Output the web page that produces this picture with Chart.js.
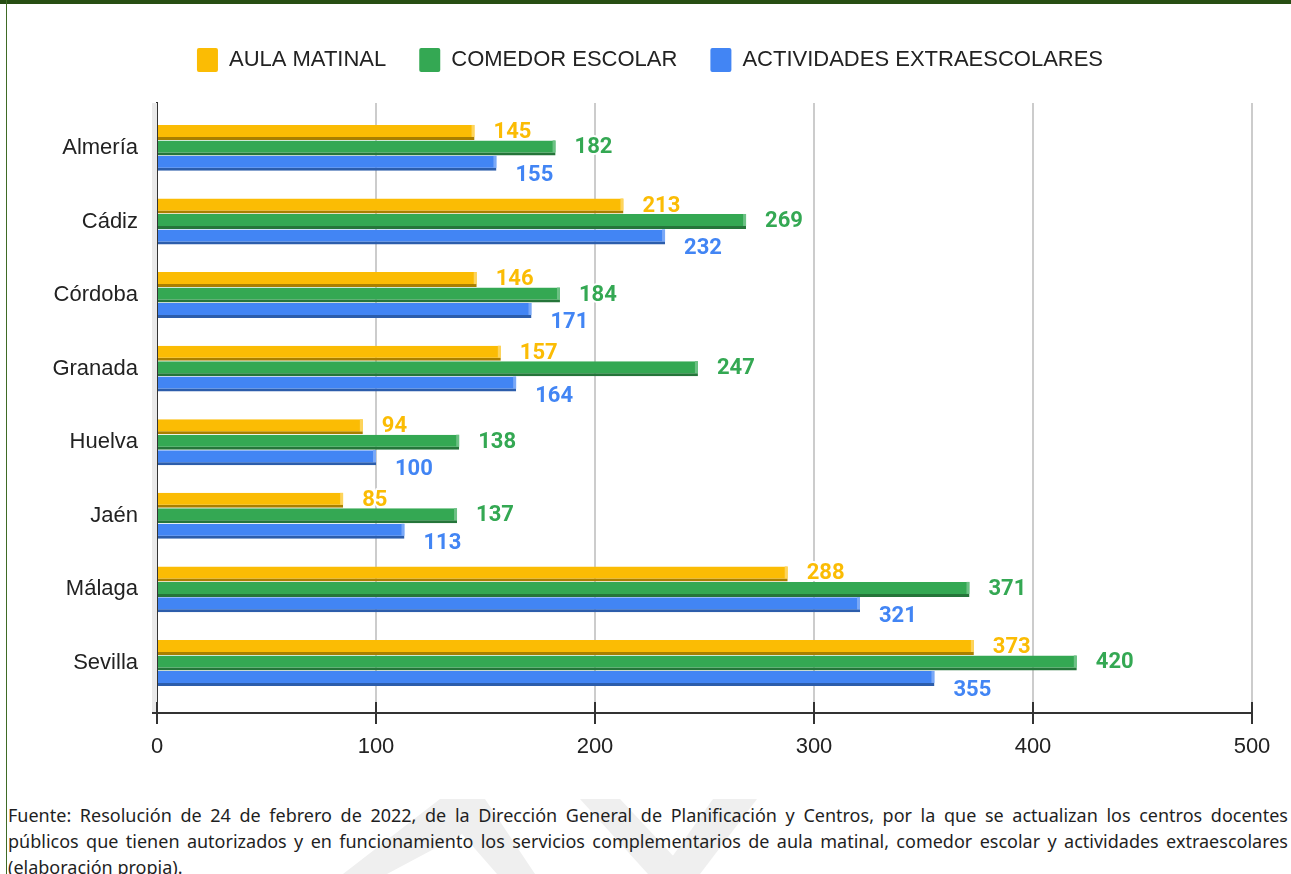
<!DOCTYPE html>
<html>
<head>
<meta charset="utf-8">
<script src="https://cdn.jsdelivr.net/npm/chart.js@4"></script>
<style>
  html, body { margin: 0; padding: 0; background: #fff; }
  body { width: 1291px; height: 874px; position: relative; overflow: hidden; }
  #topband { position: absolute; left: 0; top: 0; width: 1291px; height: 4px; background: #274e13; z-index: 5; }
  #leftline { position: absolute; left: 6px; top: 0; width: 1px; height: 874px; background: #3f6b25; z-index: 5; }
  #wrap { position: absolute; left: 0; top: 0; width: 1291px; height: 790px; z-index: 2; }
  #mark { position: absolute; left: 0; top: 0; z-index: 1; }
  #note { position: absolute; left: 8px; top: 802px; width: 1280px; z-index: 3;
          font-family: "Noto Sans", sans-serif; font-size: 18px; line-height: 26px; color: #1f1f1f; }
  #note div { white-space: nowrap; }
  #note .j { text-align: justify; text-align-last: justify; }
</style>
</head>
<body>
<div id="topband"></div>
<div id="leftline"></div>
<svg id="mark" width="1291" height="874">
  <g fill="#efefef">
    <polygon points="343,874 440,799 485,799 535,874 497,874 462,834 387,874"/>
    <polygon points="580,799 620,799 690,874 648,874"/>
    <polygon points="713,799 757,799 700,874 660,874"/>
  </g>
</svg>
<div id="wrap"><canvas id="chart" width="1291" height="790"></canvas></div>
<div id="note">
  <div class="j">Fuente: Resolución de 24 de febrero de 2022, de la Dirección General de Planificación y Centros, por la que se actualizan los centros docentes</div>
  <div class="j">públicos que tienen autorizados y en funcionamiento los servicios complementarios de aula matinal, comedor escolar y actividades extraescolares</div>
  <div>(elaboración propia).</div>
</div>
<script>
const categories = ['Almería', 'Cádiz', 'Córdoba', 'Granada', 'Huelva', 'Jaén', 'Málaga', 'Sevilla']
const aulaMatinal = [145, 213, 146, 157, 94, 85, 288, 373]
const comedorEscolar = [182, 269, 184, 247, 138, 137, 371, 420]
const actividades = [155, 232, 171, 164, 100, 113, 321, 355]
const xTicks = [0, 100, 200, 300, 400, 500]

const seriesNames = ['AULA MATINAL', 'COMEDOR ESCOLAR', 'ACTIVIDADES EXTRAESCOLARES']
const fillColors = ['#fbbc04', '#34a853', '#4285f4']
const darkColors = ['#a97f00', '#25753a', '#2c5dab']
const lightColors = ['#fdd45c', '#6cc184', '#79a8f7']
const labelDy = [0, 0, 12]

const toPoints = arr => arr.map((v, i) => ({ x: v, y: i }))

const bar3d = {
    id: 'bar3d',
    beforeDatasetsDraw(chart) {
        const { ctx, chartArea } = chart
        const xs = chart.scales.x
        ctx.save()
        // grey side wall left of the zero line
        ctx.fillStyle = '#e9e9e9'
        ctx.fillRect(chartArea.left - 5, chartArea.top, 5, chartArea.bottom - chartArea.top)
        // axis line a bit past the wall, and tick marks crossing it
        ctx.strokeStyle = '#333'
        ctx.lineWidth = 2
        ctx.beginPath()
        ctx.moveTo(chartArea.left - 5, chartArea.bottom)
        ctx.lineTo(chartArea.left, chartArea.bottom)
        xTicks.forEach(t => {
            const px = xs.getPixelForValue(t)
            ctx.moveTo(px, chartArea.bottom - 11)
            ctx.lineTo(px, chartArea.bottom)
        })
        ctx.stroke()
        ctx.restore()
    },
    afterDatasetsDraw(chart) {
        const { ctx } = chart
        ctx.save()
        chart.data.datasets.forEach((ds, i) => {
            const meta = chart.getDatasetMeta(i)
            meta.data.forEach(bar => {
                const { x, y, height } = bar.getProps(['x', 'y', 'height'], true)
                ctx.fillStyle = lightColors[i]
                ctx.fillRect(x - 3, y - height / 2, 3, height - 3)
            })
        })
        ctx.font = 'bold 22px Roboto'
        ctx.textAlign = 'left'
        ctx.textBaseline = 'middle'
        ctx.lineJoin = 'round'
        chart.data.datasets.forEach((ds, i) => {
            const meta = chart.getDatasetMeta(i)
            meta.data.forEach((bar, j) => {
                const { x, y } = bar.getProps(['x', 'y'], true)
                const text = String(ds.data[j].x)
                const tx = x + 19
                const ty = y + labelDy[i]
                ctx.strokeStyle = '#fff'
                ctx.lineWidth = 4
                ctx.strokeText(text, tx, ty)
                ctx.fillStyle = fillColors[i]
                ctx.fillText(text, tx, ty)
            })
        })
        ctx.restore()
    }
}

const series = [aulaMatinal, comedorEscolar, actividades]

new Chart(document.getElementById('chart'), {
    type: 'bar',
    data: {
        datasets: series.map((s, i) => ({
            label: seriesNames[i],
            data: toPoints(s),
            backgroundColor: fillColors[i],
            borderColor: darkColors[i],
            borderWidth: { top: 0, right: 0, bottom: 3, left: 0 },
            borderSkipped: false,
            categoryPercentage: 0.63,
            barPercentage: 0.97
        }))
    },
    options: {
        indexAxis: 'y',
        responsive: false,
        animation: false,
        layout: { padding: { top: 15, left: 48, right: 39, bottom: 30 } },
        plugins: {
            tooltip: { enabled: false },
            legend: {
                position: 'top',
                labels: {
                    boxWidth: 21,
                    boxHeight: 24,
                    padding: 33,
                    useBorderRadius: true,
                    borderRadius: 2,
                    color: '#222',
                    font: { family: 'Liberation Sans', size: 22 },
                    generateLabels: chart => Chart.defaults.plugins.legend.labels.generateLabels(chart)
                        .map(l => ({ ...l, lineWidth: 0, strokeStyle: 'rgba(0,0,0,0)' }))
                }
            },
            // empty spacer between the legend and the plot
            subtitle: {
                display: true,
                text: '',
                weight: 500,
                font: { size: 1, lineHeight: 1 },
                padding: { top: 0, bottom: 20 }
            }
        },
        scales: {
            x: {
                type: 'linear',
                min: 0,
                max: 500,
                afterBuildTicks: s => { s.ticks = xTicks.map(v => ({ value: v })) },
                afterFit: s => { s.height = 47 },
                ticks: {
                    color: '#222',
                    padding: 10,
                    font: { family: 'Liberation Sans', size: 22 }
                },
                grid: {
                    color: c => c.index === 0 ? 'rgba(0,0,0,0)' : '#cccccc',
                    lineWidth: 2,
                    tickColor: '#333',
                    tickLength: 11
                },
                border: { display: true, color: '#333', width: 2 }
            },
            y: {
                type: 'linear',
                reverse: true,
                offset: false,
                min: -0.61,
                max: 7.68,
                afterBuildTicks: s => { s.ticks = categories.map((c, i) => ({ value: i })) },
                afterFit: s => { s.width = 109 },
                ticks: {
                    color: '#222',
                    padding: 19,
                    font: { family: 'Liberation Sans', size: 22 },
                    callback: v => categories[v]
                },
                grid: { display: false, drawTicks: false },
                border: { display: true, color: '#333', width: 2 }
            }
        }
    },
    plugins: [bar3d]
})
</script>
</body>
</html>
